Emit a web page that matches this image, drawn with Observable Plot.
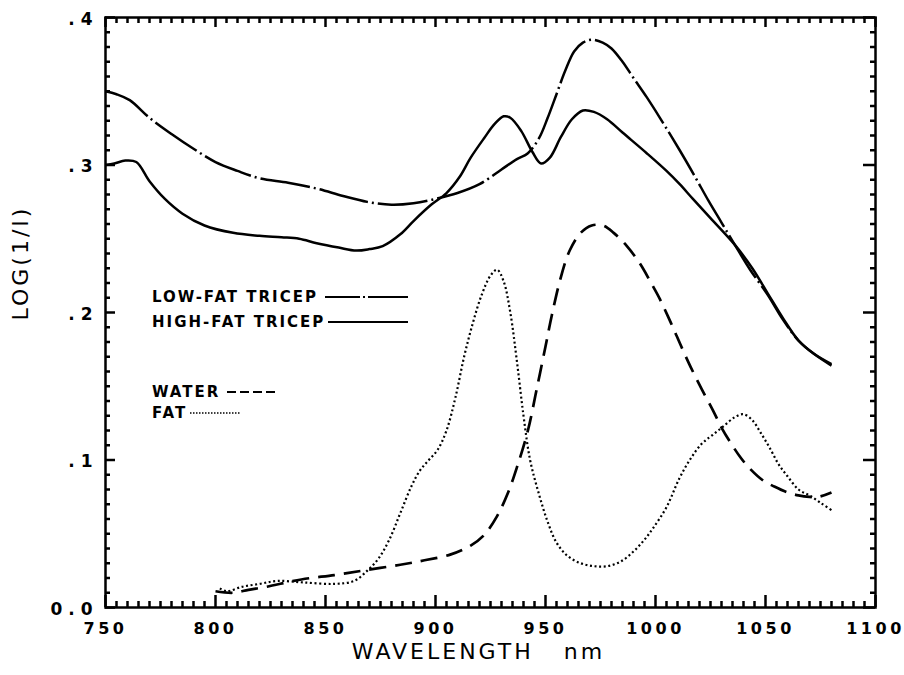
<!DOCTYPE html>
<html><head><meta charset="utf-8">
<script src="https://cdn.jsdelivr.net/npm/d3@7"></script>
<script src="https://cdn.jsdelivr.net/npm/@observablehq/plot@0.6"></script>
<style>
body{margin:0;background:#fff;}
#chart svg{display:block;}
g[aria-label="x-axis tick label"] text{letter-spacing:3.5px;}
g[aria-label="y-axis tick label"] text{letter-spacing:6px;}
</style></head><body><div id="chart"></div>
<script>
// ---- data ----
const lowFatWl  = [750,755,761,770,780,790,800,810,820,833,846,858,869,880,890,900,910,920,930,937,942,947,951,955,959,963,967,971,976,980,985,990,996,1002,1011,1018,1024,1030,1036,1043,1051,1058,1065,1072,1080];
const lowFatVal = [0.350,0.348,0.344,0.332,0.321,0.311,0.302,0.296,0.291,0.288,0.284,0.279,0.275,0.273,0.274,0.277,0.281,0.287,0.297,0.304,0.308,0.318,0.332,0.348,0.364,0.377,0.383,0.385,0.383,0.379,0.370,0.359,0.346,0.332,0.310,0.292,0.276,0.261,0.246,0.229,0.212,0.195,0.181,0.172,0.164];
const highFatWl  = [750,754,759,764,770,777,785,795,808,820,830,838,846,856,864,870,876,884,890,898,905,911,916,922,927,931,934,939,944,948,952,957,962,967,972,978,985,996,1005,1011,1017,1025,1036,1044,1051,1058,1065,1072,1080];
const highFatVal = [0.300,0.301,0.303,0.302,0.289,0.277,0.267,0.259,0.254,0.252,0.251,0.250,0.247,0.244,0.242,0.243,0.245,0.253,0.262,0.273,0.281,0.292,0.305,0.318,0.328,0.333,0.332,0.323,0.309,0.301,0.305,0.319,0.331,0.337,0.336,0.331,0.322,0.308,0.296,0.287,0.277,0.264,0.246,0.230,0.213,0.196,0.181,0.172,0.165];
const waterWl  = [800,808,815,823,839,854,867,884,895,907,916,922,928,933,937,942,946,950,953,957,961,966,971,976,981,987,993,998,1002,1007,1012,1016,1021,1026,1030,1034,1039,1043,1049,1054,1060,1065,1070,1074,1080];
const waterVal = [0.011,0.010,0.012,0.014,0.019,0.022,0.025,0.029,0.032,0.036,0.042,0.049,0.062,0.078,0.095,0.120,0.148,0.177,0.199,0.224,0.242,0.254,0.259,0.259,0.254,0.245,0.233,0.220,0.209,0.193,0.176,0.163,0.148,0.134,0.122,0.112,0.101,0.094,0.086,0.082,0.078,0.076,0.075,0.075,0.078];
const fatWl  = [802,805,812,820,828,840,854,863,869,874,879,884,889,893,897,901,905,909,913,917,921,925,928,931,934,937,940,943,947,951,955,960,966,972,978,984,990,995,999,1005,1011,1016,1021,1026,1031,1036,1040,1044,1048,1052,1056,1060,1065,1070,1075,1080];
const fatVal = [0.013,0.011,0.014,0.016,0.018,0.017,0.016,0.018,0.025,0.033,0.046,0.064,0.082,0.093,0.100,0.107,0.120,0.142,0.170,0.193,0.212,0.225,0.229,0.221,0.200,0.167,0.130,0.100,0.077,0.058,0.044,0.035,0.030,0.028,0.028,0.031,0.038,0.046,0.054,0.068,0.088,0.101,0.111,0.117,0.123,0.129,0.131,0.127,0.118,0.108,0.097,0.089,0.080,0.076,0.071,0.066];

const seriesNames = ["LOW-FAT TRICEP","HIGH-FAT TRICEP","WATER","FAT"];
const xTicks = [750,800,850,900,950,1000,1050,1100];
const xTickLabels = ["750","800","850","900","950","1000","1050","1100"];
const yTicks = [0,0.1,0.2,0.3,0.4];
const yTickLabels = ["0.0",".1",".2",".3",".4"];
const xLabel = "WAVELENGTH\u00a0\u00a0\u00a0nm";
const yLabel = "LOG(1/I)";

// ---- layout / styles ----
const W = 904, H = 675, mL = 105, mR = 29, mT = 17, mB = 68;
const FW = W - mL - mR, FH = H - mT - mB;
const styles = {
  "LOW-FAT TRICEP": {dash: "50,4,2,4", width: 2.5},
  "HIGH-FAT TRICEP": {dash: null, width: 2.5},
  "WATER": {dash: "17,9", width: 2.7},
  "FAT": {dash: "2,2.6", width: 2.2}
};
const wls = [lowFatWl, highFatWl, waterWl, fatWl];
const vals = [lowFatVal, highFatVal, waterVal, fatVal];
const xMinor = d3.range(750, 1100.1, 5).filter(v => !xTicks.includes(v));
const yMinor = d3.range(0, 41).map(i => i / 100).filter(v => !yTicks.some(t => Math.abs(t - v) < 1e-9));

const lineMarks = seriesNames.map((name, k) => {
  const rows = wls[k].map((w, i) => ({w, v: vals[k][i]}));
  return Plot.line(rows, {x: "w", y: "v", stroke: "black", strokeWidth: styles[name].width,
    strokeDasharray: styles[name].dash, curve: "catmull-rom", strokeLinecap: "butt"});
});

const tk = {stroke: "black", strokeWidth: 2.5};
const font = "DejaVu Sans";
const chart = Plot.plot({
  width: W, height: H,
  marginLeft: mL, marginRight: mR, marginTop: mT, marginBottom: mB,
  x: {domain: [750, 1100]},
  y: {domain: [0, 0.4]},
  style: {fontFamily: font, color: "black", background: "white"},
  marks: [
    ...lineMarks,
    Plot.frame({stroke: "black", strokeWidth: 2.5}),
    // inward ticks: bottom, top, left, right
    Plot.tickX(xMinor, {x: d => d, insetTop: FH - 6, ...tk}),
    Plot.tickX(xTicks, {x: d => d, insetTop: FH - 12, ...tk}),
    Plot.tickX(xMinor, {x: d => d, insetBottom: FH - 6, ...tk}),
    Plot.tickX(xTicks, {x: d => d, insetBottom: FH - 10, ...tk}),
    Plot.tickY(yMinor, {y: d => d, insetRight: FW - 5, ...tk}),
    Plot.tickY(yTicks, {y: d => d, insetRight: FW - 10, ...tk}),
    Plot.tickY(yMinor, {y: d => d, insetLeft: FW - 5, ...tk}),
    Plot.tickY(yTicks, {y: d => d, insetLeft: FW - 12, ...tk}),
    Plot.axisX(xTicks, {anchor: "bottom", tickSize: 0, tickPadding: 15, label: null,
      tickFormat: d => xTickLabels[xTicks.indexOf(d)], fontSize: 16, fontWeight: "bold", fontFamily: font}),
    Plot.axisY(yTicks, {anchor: "left", tickSize: 0, tickPadding: 7, label: null, dy: 2,
      tickFormat: d => yTickLabels[yTicks.indexOf(d)], fontSize: 17, fontWeight: "bold", fontFamily: font}),
    Plot.text([xLabel], {frameAnchor: "bottom", dy: 51, dx: -12, text: d => d, fontSize: 22, fontFamily: font}),
    Plot.text([yLabel], {frameAnchor: "left", dx: -85, dy: 8, rotate: -90, text: d => d, fontSize: 22, fontFamily: font})
  ]
});
document.getElementById("chart").append(chart);

const svg = d3.select(chart);
svg.selectAll('g[aria-label="text"] text').style("letter-spacing", "3px");

// legend (inside the frame, pixel layout)
const legendRows = [
  {name: seriesNames[0], y: 297, x1: 325, x2: 408, dash: "35,3,2,3,80", w: 2},
  {name: seriesNames[1], y: 322, x1: 328, x2: 408, dash: null, w: 2},
  {name: seriesNames[2], y: 392, x1: 227, x2: 277, dash: "9,4", w: 2},
  {name: seriesNames[3], y: 413, x1: 190, x2: 240, dash: "1.5,1.5", w: 1.5}
];
const lg = svg.append("g").attr("aria-label", "legend");
legendRows.forEach(r => {
  lg.append("text").attr("x", 152).attr("y", r.y).attr("dy", "0.36em")
    .attr("text-anchor", "start")
    .attr("font-family", font).attr("font-size", 15).attr("font-weight", "bold")
    .style("letter-spacing", "2px").attr("fill", "black").text(r.name);
  lg.append("line").attr("x1", r.x1).attr("x2", r.x2).attr("y1", r.y).attr("y2", r.y)
    .attr("stroke", "black").attr("stroke-width", r.w).attr("stroke-dasharray", r.dash);
});
</script></body></html>
